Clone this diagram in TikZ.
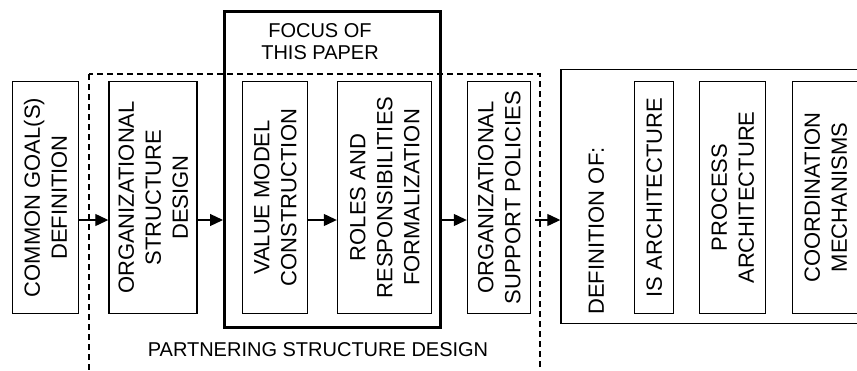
\documentclass[tikz,border=0pt]{standalone}
\usepackage{fontspec}
\usepackage{array}
\setmainfont{Liberation Sans}
\usetikzlibrary{arrows.meta}
\newcommand{\vtext}[1]{\rotatebox{90}{\setlength\extrarowheight{8.3pt}\fontsize{22}{18.7}\selectfont\begin{tabular}{@{}c@{}}#1\end{tabular}}}

\begin{document}
\begin{tikzpicture}[x=1pt,y=-1pt,
    stage/.style={draw,line width=1.4pt,minimum height=232pt,inner sep=0pt},
    arr/.style={-{Triangle[length=13pt,width=12pt]},line width=1.2pt},
    lbl/.style={font=\fontsize{20}{22}\selectfont,align=center}]
    \useasboundingbox (0,0) rectangle (857,370);
    \clip (0,0) rectangle (857,370);
    \coordinate (lvl) at (0,220);
    % partnering structure design
    \draw[line width=1.2pt,dash pattern=on 6pt off 4pt] (89,74) rectangle (540,400);
    \node[lbl] (partner) at (318,350) {PARTNERING STRUCTURE DESIGN};
    % focus of this paper
    \node[draw,line width=3pt,minimum width=216pt,minimum height=316pt] (focus) at (332.5,169.5) {};
    \node[lbl] (focuslbl) at (320,42) {FOCUS OF\\THIS PAPER};
    % stages
    \node[stage,minimum width=66pt] (common) at (45.5,197.5) {\vtext{COMMON GOAL(S)\\DEFINITION}};
    \node[stage,minimum width=88pt] (orgdesign) at (153,197.5) {\vtext{ORGANIZATIONAL\\STRUCTURE\\DESIGN}};
    \node[stage,minimum width=65pt] (valuemodel) at (275,197.5) {\vtext{VALUE MODEL\\CONSTRUCTION}};
    \node[stage,minimum width=94pt] (roles) at (384.5,197.5) {\vtext{ROLES AND\\RESPONSIBILITIES\\FORMALIZATION}};
    \node[stage,minimum width=63pt] (support) at (499,197.5) {\vtext{ORGANIZATIONAL\\SUPPORT POLICIES}};
    % definition of
    \node[draw,line width=1.4pt,minimum width=330pt,minimum height=254pt] (definition) at (726,196.5) {};
    \node[anchor=south,inner sep=0pt] (defof) at (596,315) {\vtext{DEFINITION OF:}};
    \node[stage,minimum width=39pt] (isarch) at (654,197.5) {\vtext{IS ARCHITECTURE}};
    \node[stage,minimum width=66pt] (procarch) at (732.5,197.5) {\vtext{PROCESS\\ARCHITECTURE}};
    \node[stage,minimum width=66pt] (coord) at (825.5,197.5) {\vtext{COORDINATION\\MECHANISMS}};
    % arrows
    \draw[arr] (common.east |- lvl) -- (orgdesign.west |- lvl);
    \draw[arr] (orgdesign.east |- lvl) -- (focus.west |- lvl);
    \draw[arr] (valuemodel.east |- lvl) -- (roles.west |- lvl);
    \draw[arr] (focus.east |- lvl) -- (support.west |- lvl);
    \draw[arr,shorten <=4pt] (support.east |- lvl) -- (definition.west |- lvl);
\end{tikzpicture}
\end{document}
